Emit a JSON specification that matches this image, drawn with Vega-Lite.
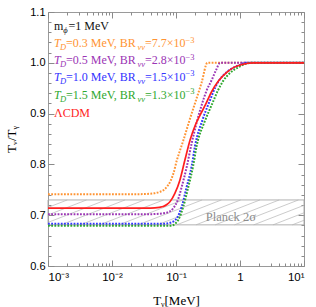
{
 "$schema": "https://vega.github.io/schema/vega-lite/v6.json",
 "width": 256, "height": 254,
 "autosize": {"type": "none"},
 "padding": {"left": 48, "top": 12, "right": 12, "bottom": 41},
 "background": "white",
 "config": {"view": {"stroke": "#9a9a9a", "strokeWidth": 1}, "font": "Liberation Serif",
   "axis": {"grid": false, "domain": false, "tickColor": "#8a8a8a", "labelFont": "Liberation Sans", "labelFontSize": 11, "labelColor": "#000", "titleFont": "Liberation Serif", "titleFontSize": 13, "titleFontWeight": "normal", "titleColor": "#000"}},
 "datasets": {
  "curves": [
   {"s":"0.3","T":0.001,"v":0.741},{"s":"0.3","T":0.01,"v":0.741},{"s":"0.3","T":0.03,"v":0.7415},{"s":"0.3","T":0.045,"v":0.743},{"s":"0.3","T":0.056,"v":0.746},{"s":"0.3","T":0.065,"v":0.75},{"s":"0.3","T":0.072,"v":0.756},{"s":"0.3","T":0.082,"v":0.767},{"s":"0.3","T":0.091,"v":0.782},{"s":"0.3","T":0.103,"v":0.808},{"s":"0.3","T":0.115,"v":0.827},{"s":"0.3","T":0.13,"v":0.847},{"s":"0.3","T":0.16,"v":0.884},{"s":"0.3","T":0.2,"v":0.922},{"s":"0.3","T":0.25,"v":0.96},{"s":"0.3","T":0.31,"v":1.0},{"s":"0.3","T":1,"v":1.0},{"s":"0.3","T":10,"v":1.0},
   {"s":"0.5","T":0.001,"v":0.702},{"s":"0.5","T":0.04,"v":0.702},{"s":"0.5","T":0.06,"v":0.7035},{"s":"0.5","T":0.072,"v":0.705},{"s":"0.5","T":0.091,"v":0.714},{"s":"0.5","T":0.109,"v":0.733},{"s":"0.5","T":0.123,"v":0.756},{"s":"0.5","T":0.147,"v":0.795},{"s":"0.5","T":0.176,"v":0.842},{"s":"0.5","T":0.21,"v":0.882},{"s":"0.5","T":0.252,"v":0.917},{"s":"0.5","T":0.3,"v":0.945},{"s":"0.5","T":0.361,"v":0.966},{"s":"0.5","T":0.42,"v":0.985},{"s":"0.5","T":0.49,"v":1.0},{"s":"0.5","T":10,"v":1.0},
   {"s":"1.0","T":0.001,"v":0.683},{"s":"1.0","T":0.05,"v":0.683},{"s":"1.0","T":0.07,"v":0.6835},{"s":"1.0","T":0.081,"v":0.685},{"s":"1.0","T":0.092,"v":0.688},{"s":"1.0","T":0.103,"v":0.694},{"s":"1.0","T":0.123,"v":0.717},{"s":"1.0","T":0.147,"v":0.756},{"s":"1.0","T":0.176,"v":0.797},{"s":"1.0","T":0.198,"v":0.836},{"s":"1.0","T":0.26,"v":0.888},{"s":"1.0","T":0.32,"v":0.918},{"s":"1.0","T":0.458,"v":0.963},{"s":"1.0","T":0.6,"v":0.98},{"s":"1.0","T":0.778,"v":0.99},{"s":"1.0","T":1.0,"v":0.996},{"s":"1.0","T":1.2,"v":1.0},{"s":"1.0","T":10,"v":1.0},
   {"s":"1.5","T":0.001,"v":0.679},{"s":"1.5","T":0.05,"v":0.679},{"s":"1.5","T":0.086,"v":0.6795},{"s":"1.5","T":0.098,"v":0.684},{"s":"1.5","T":0.109,"v":0.691},{"s":"1.5","T":0.13,"v":0.717},{"s":"1.5","T":0.156,"v":0.756},{"s":"1.5","T":0.186,"v":0.798},{"s":"1.5","T":0.21,"v":0.836},{"s":"1.5","T":0.28,"v":0.884},{"s":"1.5","T":0.361,"v":0.917},{"s":"1.5","T":0.45,"v":0.945},{"s":"1.5","T":0.55,"v":0.965},{"s":"1.5","T":0.7,"v":0.98},{"s":"1.5","T":1.0,"v":0.993},{"s":"1.5","T":1.5,"v":1.0},{"s":"1.5","T":10,"v":1.0},
   {"s":"LCDM","T":0.001,"v":0.7138},{"s":"LCDM","T":0.04,"v":0.714},{"s":"LCDM","T":0.055,"v":0.7155},{"s":"LCDM","T":0.063,"v":0.717},{"s":"LCDM","T":0.072,"v":0.721},{"s":"LCDM","T":0.081,"v":0.727},{"s":"LCDM","T":0.096,"v":0.743},{"s":"LCDM","T":0.115,"v":0.769},{"s":"LCDM","T":0.138,"v":0.809},{"s":"LCDM","T":0.166,"v":0.848},{"s":"LCDM","T":0.2,"v":0.877},{"s":"LCDM","T":0.24,"v":0.898},{"s":"LCDM","T":0.29,"v":0.918},{"s":"LCDM","T":0.36,"v":0.943},{"s":"LCDM","T":0.46,"v":0.964},{"s":"LCDM","T":0.62,"v":0.981},{"s":"LCDM","T":0.8,"v":0.991},{"s":"LCDM","T":1.1,"v":0.997},{"s":"LCDM","T":1.6,"v":1.0},{"s":"LCDM","T":10,"v":1.0}
  ],
  "hatch": [
   {"xs":0.0001,"xe":0.001},{"xs":0.0002,"xe":0.002},{"xs":0.0004,"xe":0.004},{"xs":0.0008,"xe":0.008},{"xs":0.0016,"xe":0.016},{"xs":0.0032,"xe":0.032},{"xs":0.0064,"xe":0.064},{"xs":0.0128,"xe":0.128},{"xs":0.0256,"xe":0.256},{"xs":0.0512,"xe":0.512},{"xs":0.1024,"xe":1.024},{"xs":0.2048,"xe":2.048},{"xs":0.4096,"xe":4.096},{"xs":0.8192,"xe":8.192},{"xs":1.6384,"xe":16.384},{"xs":3.2768,"xe":32.768},{"xs":6.5536,"xe":65.536}
  ],
  "band": [{"x0":0.001,"x1":10,"lo":0.681,"hi":0.730}],
  "leg": [
   {"s":"0.3","ty":1.0311,"a":"=0.3 MeV, BR","b":"=7.7×10"},
   {"s":"0.5","ty":0.9976,"a":"=0.5 MeV, BR","b":"=2.8×10"},
   {"s":"1.0","ty":0.9642,"a":"=1.0 MeV, BR","b":"=1.5×10"},
   {"s":"1.5","ty":0.9297,"a":"=1.5 MeV, BR","b":"=1.3×10"}
  ],
  "one": [{"k": 1}]
 },
 "resolve": {"axis": {"x": "independent", "y": "independent"}},
 "layer": [
  {
   "data": {"name": "band"},
   "mark": {"type": "rect", "fillOpacity": 0, "stroke": "#a8a8a8", "strokeWidth": 0.9},
   "encoding": {
    "x": {"field": "x0", "type": "quantitative", "scale": {"type": "log", "domain": [0.001, 10], "nice": false},
      "axis": {"orient": "bottom", "values": [0.002,0.003,0.004,0.005,0.006,0.007,0.008,0.009,0.02,0.03,0.04,0.05,0.06,0.07,0.08,0.09,0.2,0.3,0.4,0.5,0.6,0.7,0.8,0.9,2,3,4,5,6,7,8,9], "labels": false, "tickSize": -3, "title": null}},
    "x2": {"field": "x1"},
    "y": {"field": "lo", "type": "quantitative", "scale": {"domain": [0.6, 1.1], "nice": false, "zero": false},
      "axis": {"orient": "left", "values": [0.62,0.64,0.66,0.68,0.72,0.74,0.76,0.78,0.82,0.84,0.86,0.88,0.92,0.94,0.96,0.98,1.02,1.04,1.06,1.08], "labels": false, "tickSize": -3, "title": null}},
    "y2": {"field": "hi"}
   }
  },
  {
   "data": {"name": "hatch"},
   "mark": {"type": "rule", "clip": true, "color": "#b4b4b4", "strokeWidth": 0.7},
   "encoding": {
    "x": {"field": "xs", "type": "quantitative", "scale": {"type": "log", "domain": [0.001, 10], "nice": false},
      "axis": {"orient": "top", "values": [0.001,0.01,0.1,1,10], "labels": false, "tickSize": -6, "title": null}},
    "x2": {"field": "xe"},
    "y": {"datum": 0.681, "type": "quantitative", "scale": {"domain": [0.6, 1.1], "nice": false, "zero": false},
      "axis": {"orient": "right", "values": [0.6,0.7,0.8,0.9,1.0,1.1], "labels": false, "tickSize": -6, "title": null}},
    "y2": {"datum": 0.730}
   }
  },
  {
   "data": {"name": "one"},
   "mark": {"type": "text", "text": "Planck 2σ", "font": "Liberation Serif", "fontSize": 12.5, "color": "#8c8c8c", "align": "center", "baseline": "middle"},
   "encoding": {
    "x": {"datum": 0.72, "type": "quantitative", "scale": {"type": "log", "domain": [0.001, 10], "nice": false},
      "axis": {"orient": "top", "values": [0.002,0.003,0.004,0.005,0.006,0.007,0.008,0.009,0.02,0.03,0.04,0.05,0.06,0.07,0.08,0.09,0.2,0.3,0.4,0.5,0.6,0.7,0.8,0.9,2,3,4,5,6,7,8,9], "labels": false, "tickSize": -3, "title": null}},
    "y": {"datum": 0.697, "type": "quantitative", "scale": {"domain": [0.6, 1.1], "nice": false, "zero": false},
      "axis": {"orient": "right", "values": [0.62,0.64,0.66,0.68,0.72,0.74,0.76,0.78,0.82,0.84,0.86,0.88,0.92,0.94,0.96,0.98,1.02,1.04,1.06,1.08], "labels": false, "tickSize": -3, "title": null}}
   }
  },
  {
   "data": {"name": "curves"},
   "transform": [{"filter": "datum.s != 'LCDM'"}],
   "mark": {"type": "line", "strokeWidth": 2, "strokeDash": [1.8, 1.4], "interpolate": "monotone"},
   "encoding": {
    "x": {"field": "T", "type": "quantitative", "scale": {"type": "log", "domain": [0.001, 10], "nice": false},
      "axis": {"orient": "bottom", "values": [0.001,0.01,0.1,1,10], "tickSize": -6, "labelPadding": 11, "labelFontSize": 11.5, "labelExpr": "datum.value < 0.005 ? '10⁻³' : datum.value < 0.05 ? '10⁻²' : datum.value < 0.5 ? '10⁻¹' : datum.value < 5 ? '1' : '10¹'", "title": "Tᵧ[MeV]", "titlePadding": 12}},
    "y": {"field": "v", "type": "quantitative", "scale": {"domain": [0.6, 1.1], "nice": false, "zero": false},
      "axis": {"orient": "left", "values": [0.6,0.7,0.8,0.9,1.0,1.1], "format": ".1f", "tickSize": -6, "labelPadding": 9, "title": "Tᵥ/Tᵧ", "titlePadding": 11}},
    "color": {"field": "s", "type": "nominal", "scale": {"domain": ["0.3","0.5","1.0","1.5","LCDM"], "range": ["#FF9433","#9B35B5","#3434FF","#2FA82F","#FF1E1E"]}, "legend": null},
    "detail": {"field": "s"}
   }
  },
  {
   "data": {"name": "curves"},
   "transform": [{"filter": "datum.s == 'LCDM'"}],
   "mark": {"type": "line", "strokeWidth": 1.7, "interpolate": "monotone"},
   "encoding": {
    "x": {"field": "T", "type": "quantitative", "scale": {"type": "log", "domain": [0.001, 10], "nice": false}, "axis": null},
    "y": {"field": "v", "type": "quantitative", "scale": {"domain": [0.6, 1.1], "nice": false, "zero": false}, "axis": null},
    "color": {"field": "s", "type": "nominal", "legend": null}
   }
  },
  {
   "data": {"name": "leg"},
   "layer": [
    {"mark": {"type": "text", "text": "T", "fontStyle": "italic", "fontSize": 12, "align": "left", "baseline": "alphabetic"}},
    {"mark": {"type": "text", "text": "D", "fontStyle": "italic", "fontSize": 8.5, "align": "left", "baseline": "alphabetic", "dx": 6, "dy": 3}},
    {"mark": {"type": "text", "fontSize": 12, "align": "left", "baseline": "alphabetic", "dx": 12}, "encoding": {"text": {"field": "a"}}},
    {"mark": {"type": "text", "text": "νν", "fontStyle": "italic", "fontSize": 8.5, "align": "left", "baseline": "alphabetic", "dx": 83.5, "dy": 3}},
    {"mark": {"type": "text", "fontSize": 12, "align": "left", "baseline": "alphabetic", "dx": 91}, "encoding": {"text": {"field": "b"}}},
    {"mark": {"type": "text", "text": "−3", "fontSize": 8.5, "align": "left", "baseline": "alphabetic", "dx": 131.5, "dy": -4.5}}
   ],
   "encoding": {
    "x": {"datum": 0.00124, "type": "quantitative", "scale": {"type": "log", "domain": [0.001, 10], "nice": false}, "axis": null},
    "y": {"field": "ty", "type": "quantitative", "scale": {"domain": [0.6, 1.1], "nice": false, "zero": false}, "axis": null},
    "color": {"field": "s", "type": "nominal", "legend": null}
   }
  },
  {
   "data": {"name": "one"},
   "layer": [
    {"mark": {"type": "text", "text": "m", "fontSize": 12, "align": "left", "baseline": "alphabetic", "color": "#111"}},
    {"mark": {"type": "text", "text": "ϕ", "fontStyle": "italic", "fontSize": 8.5, "align": "left", "baseline": "alphabetic", "dx": 9.3, "dy": 3, "color": "#111"}},
    {"mark": {"type": "text", "text": "=1 MeV", "fontSize": 12, "align": "left", "baseline": "alphabetic", "dx": 14.5, "color": "#111"}}
   ],
   "encoding": {
    "x": {"datum": 0.00124, "type": "quantitative", "scale": {"type": "log", "domain": [0.001, 10], "nice": false}, "axis": null},
    "y": {"datum": 1.0646, "type": "quantitative", "scale": {"domain": [0.6, 1.1], "nice": false, "zero": false}, "axis": null}
   }
  },
  {
   "data": {"name": "one"},
   "mark": {"type": "text", "text": "ΛCDM", "fontSize": 12, "align": "left", "baseline": "alphabetic", "color": "#FF1E1E"},
   "encoding": {
    "x": {"datum": 0.00124, "type": "quantitative", "scale": {"type": "log", "domain": [0.001, 10], "nice": false}, "axis": null},
    "y": {"datum": 0.8933, "type": "quantitative", "scale": {"domain": [0.6, 1.1], "nice": false, "zero": false}, "axis": null}
   }
  }
 ]
}
